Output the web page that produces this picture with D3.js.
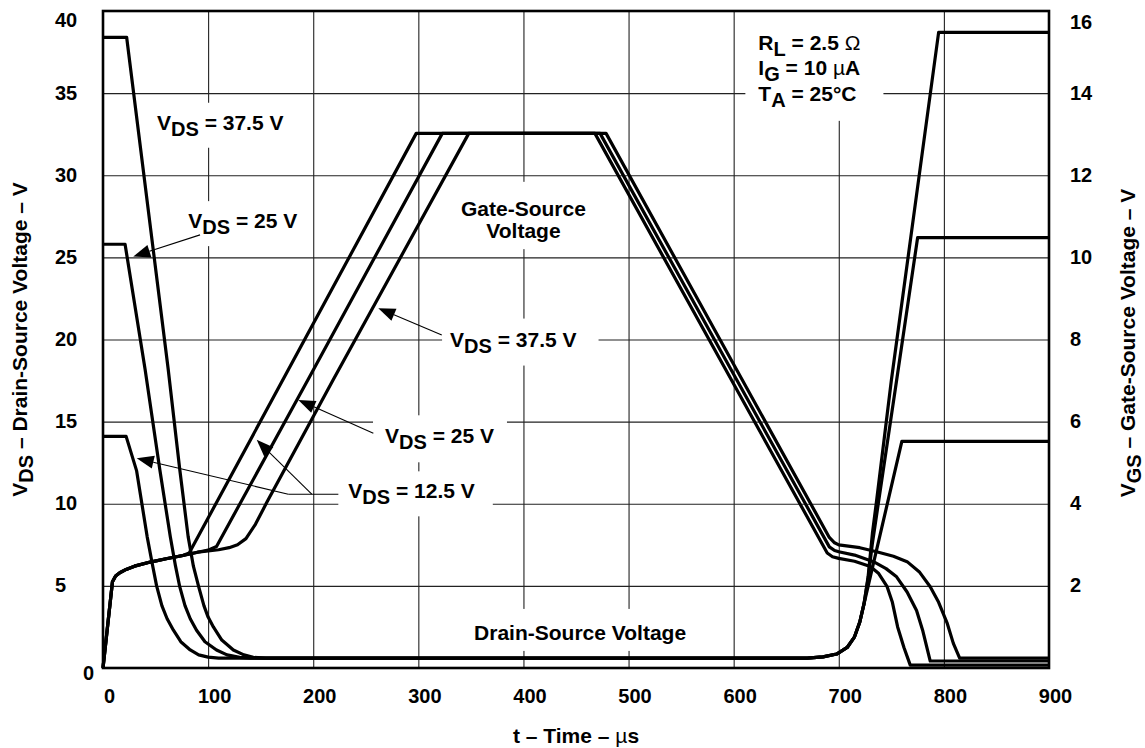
<!DOCTYPE html>
<html>
<head>
<meta charset="utf-8">
<script src="https://cdn.jsdelivr.net/npm/d3@7"></script>
<style>
  body { margin: 0; background: #fff; }
  svg text { font-family: "Liberation Sans", Arial, Helvetica, sans-serif; font-weight: bold; fill: #000; }
</style>
</head>
<body>
<svg id="chart" width="1145" height="748"></svg>
<script>
// ticks
const timeTicks = [0, 100, 200, 300, 400, 500, 600, 700, 800, 900];
const vdsTicks = [0, 5, 10, 15, 20, 25, 30, 35, 40];
const vgsTicks = [2, 4, 6, 8, 10, 12, 14, 16];

// drain-source voltage (left axis, V) vs time (µs)
const vdsOff = [[670, 0.6], [685, 0.68], [698, 0.85], [708, 1.25], [715, 1.9], [720, 2.8], [724, 3.9]];
const vds125 = [[0, 14.1], [22, 14.1], [32, 12.0], [42, 8.0], [47, 6.3], [51, 5.0], [56, 3.8], [61, 3.0], [67, 2.3],
  [74, 1.6], [83, 1.1], [91, 0.8], [100, 0.66], [110, 0.6]].concat(vdsOff, [[728, 5.0], [760, 13.8], [900, 13.8]]);
const vds25 = [[0, 25.8], [21, 25.8], [40, 18.2], [54, 12.1], [64, 8.0], [69, 6.2], [73, 4.95], [78, 3.8], [83, 3.0],
  [89, 2.3], [97, 1.6], [108, 1.1], [118, 0.8], [130, 0.65], [140, 0.6]].concat(vdsOff, [[728, 5.5], [732, 7.6], [755, 17.5], [775, 26.2], [900, 26.2]]);
const vds375 = [[0, 38.4], [22.5, 38.4], [62, 18.2], [73, 12.1], [81, 8.0], [86, 6.2], [91, 4.95], [96, 3.8], [100, 3.1],
  [105, 2.5], [113, 1.7], [124, 1.1], [134, 0.8], [143, 0.65], [155, 0.6]].concat(vdsOff, [[728, 5.6], [732, 8.2], [736, 10.2], [750, 17.5], [795, 38.7], [900, 38.7]]);

// gate-source voltage (right axis, V) vs time (µs)
const gateStart = [[0, 0], [9, 2.1], [12, 2.24], [16, 2.32], [22, 2.4], [30, 2.48], [45, 2.58], [60, 2.66], [76, 2.74]];
const gate125 = gateStart.concat([[82, 2.8], [298, 13.02], [468, 13.02], [689, 2.8], [694, 2.71], [700, 2.67], [715, 2.6],
  [730, 2.47], [738, 2.3], [746, 1.98], [751, 1.6], [756, 1.0], [762, 0.5], [768, 0.07], [900, 0.07]]);
const gate25 = gateStart.concat([[90, 2.82], [100, 2.87], [108, 2.96], [195, 7.02], [322.8, 13.02], [472.9, 13.02],
  [691, 2.95], [696, 2.86], [700, 2.83], [715, 2.75], [733, 2.59], [745, 2.42], [755, 2.22], [765, 1.85], [774, 1.4],
  [780, 0.9], [787, 0.17], [900, 0.17]]);
const gate375 = gateStart.concat([[90, 2.82], [100, 2.85], [110, 2.88], [120, 2.93], [128, 3.0], [136, 3.15], [145, 3.5],
  [156, 4.04], [219, 7.02], [348, 13.02], [478.6, 13.02], [691, 3.18], [696, 3.05], [700, 3.0], [720, 2.93], [736, 2.83],
  [752, 2.72], [765, 2.59], [777, 2.33], [787, 1.98], [795, 1.6], [803, 1.1], [809, 0.6], [815, 0.24], [900, 0.24]]);

// annotations (time, left-axis volts)
const vdsLabels = [
  {rest: " = 37.5 V", t: 51.4, v: 32.77, pad: [8, 8, 8, 8]},
  {rest: " = 25 V", t: 81.2, v: 26.78, pad: [8, 8, 8, 8]},
  {rest: " = 37.5 V", t: 330.2, v: 19.57, pad: [8, 22, 9, 9]},
  {rest: " = 25 V", t: 268.3, v: 13.68, pad: [12, 13, 9, 9]},
  {rest: " = 12.5 V", t: 233.4, v: 10.33, pad: [10, 18, 8, 8]}
];
const arrows = [
  [92.3, 26.37, 28.8, 25.05],
  [176.3, 10.58, 32.1, 12.77],
  [198.6, 10.58, 146.2, 13.89],
  [257.2, 14.29, 185.8, 16.32],
  [322.3, 20.28, 261.9, 21.91]
];
const leader = [[176.3, 10.58], [223.9, 10.58]];

const svg = d3.select("#chart");
const x = d3.scaleLinear().domain([0, 900]).range([103, 1049]);
const yL = d3.scaleLinear().domain([0, 40]).range([668, 11]);
const yR = d3.scaleLinear().domain([0, 16]).range([668, 11]);

// grid
svg.append("g").attr("transform", "translate(0,668)")
  .call(d3.axisBottom(x).tickValues(timeTicks.slice(1, -1)).tickSize(-657).tickFormat(""))
  .call(g => g.select(".domain").remove())
  .selectAll("line").attr("stroke", "#222").attr("stroke-width", 1.1);
svg.append("g").attr("transform", "translate(103,0)")
  .call(d3.axisLeft(yL).tickValues(vdsTicks.slice(1, -1)).tickSize(-946).tickFormat(""))
  .call(g => g.select(".domain").remove())
  .selectAll("line").attr("stroke", "#222").attr("stroke-width", 1.1);

let bg = svg.append("g");

// tick labels
svg.append("g").attr("transform", "translate(0,668)")
  .call(d3.axisBottom(x).tickValues(timeTicks).tickSize(0))
  .call(g => g.select(".domain").remove())
  .selectAll("text").style("font-size", "20px").attr("y", 35).attr("dy", 0).attr("dx", 6);
svg.append("g").attr("transform", "translate(103,0)")
  .call(d3.axisLeft(yL).tickValues(vdsTicks).tickSize(0))
  .call(g => g.select(".domain").remove())
  .selectAll("text").style("font-size", "20px").attr("text-anchor", "start").attr("dy", "0.3em")
  .attr("x", d => d == 0 ? -20 : -48)
  .attr("y", d => d == 40 ? 9 : (d == 0 ? 5 : 0));
svg.append("g").attr("transform", "translate(1049,0)")
  .call(d3.axisRight(yR).tickValues(vgsTicks).tickSize(0))
  .call(g => g.select(".domain").remove())
  .selectAll("text").style("font-size", "20px").attr("text-anchor", "start").attr("dy", "0.3em")
  .attr("x", 21)
  .attr("y", d => d == 16 ? 11 : 0);

// curves
const lineL = d3.line().x(d => x(d[0])).y(d => yL(d[1]));
const lineR = d3.line().x(d => x(d[0])).y(d => yR(d[1]));
let curves = svg.append("g").attr("fill", "none").attr("stroke", "#000")
  .attr("stroke-width", 3.2).attr("stroke-linejoin", "round");
[vds125, vds25, vds375].forEach(s => curves.append("path").attr("d", lineL(s)));
[gate125, gate25, gate375].forEach(s => curves.append("path").attr("d", lineR(s)));

svg.append("rect").attr("x", 103).attr("y", 11).attr("width", 946).attr("height", 657)
  .attr("fill", "none").attr("stroke", "#000").attr("stroke-width", 2.6);

// text helpers
function addText(parent, px, py, parts, size, anchor) {
  let t = parent.append("text").attr("x", px).attr("y", py).style("font-size", size + "px")
    .attr("text-anchor", anchor || "start");
  let shift = 0;
  parts.forEach(p => {
    let sp = t.append("tspan").text(p[0]);
    if (p[1] == "sub") { sp.attr("dy", 6 - shift).style("font-size", (size - 1) + "px"); shift = 6; }
    else { if (shift) sp.attr("dy", -shift); shift = 0; }
    if (p[1] == "thin") sp.style("font-weight", "normal");
  });
  return t;
}
function addBg(node, pad) {
  let b = node.getBBox();
  bg.append("rect").attr("x", b.x - pad[0]).attr("y", b.y - pad[2])
    .attr("width", b.width + pad[0] + pad[1]).attr("height", b.height + pad[2] + pad[3]).attr("fill", "#fff");
}

let labelsG = svg.append("g");
vdsLabels.forEach(l => {
  let t = addText(labelsG, x(l.t), yL(l.v), [["V"], ["DS", "sub"], [l.rest]], 21);
  addBg(t.node(), l.pad);
});

let gs = labelsG.append("text").attr("text-anchor", "middle").style("font-size", "21px");
gs.append("tspan").attr("x", x(400)).attr("y", yL(27.53)).text("Gate-Source");
gs.append("tspan").attr("x", x(400)).attr("y", yL(26.17)).text("Voltage");
addBg(gs.node(), [12, 12, 15, 7]);

let ds = addText(labelsG, x(453.9), yL(1.71), [["Drain-Source Voltage"]], 21, "middle");
addBg(ds.node(), [8, 8, 12, 7]);

let legend = labelsG.append("g");
addText(legend, x(623.5), yL(37.64), [["R"], ["L", "sub"], [" = 2.5 "], ["\u03A9", "thin"]], 21);
addText(legend, x(623.5), yL(36.08), [["I"], ["G", "sub"], [" = 10 "], ["\u00B5", "thin"], ["A"]], 21);
addText(legend, x(623.5), yL(34.53), [["T"], ["A", "sub"], [" = 25\u00B0C"]], 21);
addBg(legend.node(), [13, 23, 30, 10]);

// axis titles
addText(svg, 0, 0, [["V"], ["DS", "sub"], [" \u2013 Drain-Source Voltage \u2013 V"]], 21, "middle")
  .attr("transform", "translate(27,339.5) rotate(-90)");
addText(svg, 0, 0, [["V"], ["GS", "sub"], [" \u2013 Gate-Source Voltage \u2013 V"]], 21, "middle")
  .attr("transform", "translate(1135,343) rotate(-90)");
addText(svg, 576, 743, [["t \u2013 Time \u2013 "], ["\u00B5", "thin"], ["s"]], 21, "middle");

// arrows
let arrowG = svg.append("g");
function arrow(a) {
  let x0 = x(a[0]), y0 = yL(a[1]), x1 = x(a[2]), y1 = yL(a[3]);
  let ang = Math.atan2(y1 - y0, x1 - x0), L = 17, w = 6.5;
  let bx = x1 - L * Math.cos(ang), by = y1 - L * Math.sin(ang);
  arrowG.append("line").attr("x1", x0).attr("y1", y0).attr("x2", bx).attr("y2", by)
    .attr("stroke", "#000").attr("stroke-width", 1.1);
  arrowG.append("polygon").attr("fill", "#000")
    .attr("points", [[x1, y1], [bx + w * Math.sin(ang), by - w * Math.cos(ang)], [bx - w * Math.sin(ang), by + w * Math.cos(ang)]].join(" "));
}
arrows.forEach(arrow);
arrowG.append("path").attr("d", lineL(leader)).attr("stroke", "#000").attr("stroke-width", 1.1).attr("fill", "none");
</script>
</body>
</html>
